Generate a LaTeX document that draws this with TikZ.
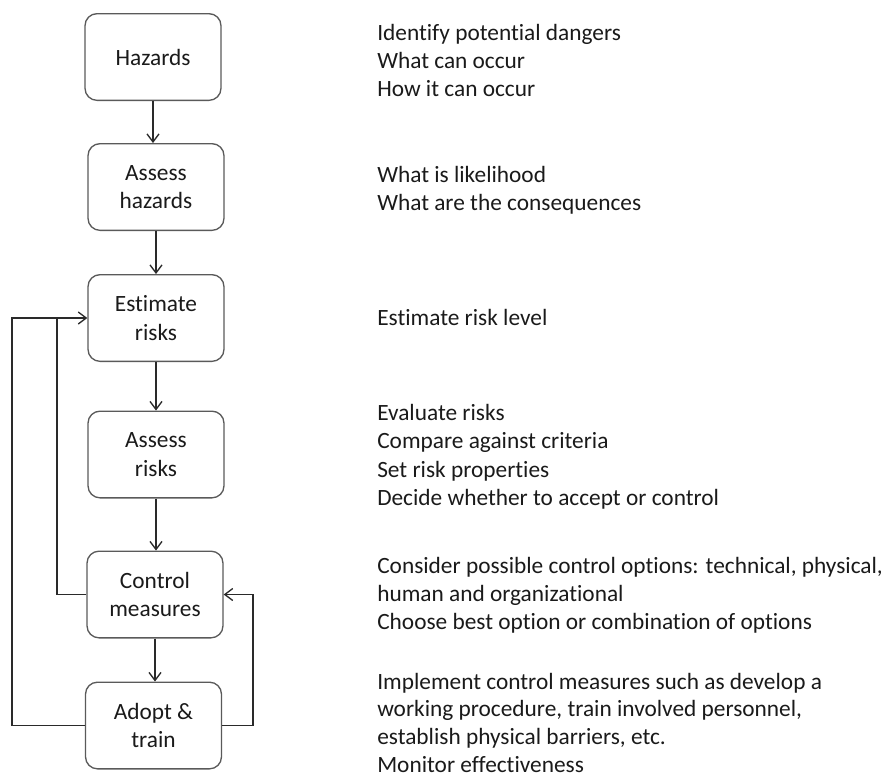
\documentclass[tikz,border=0pt]{standalone}
\usepackage{fontspec}
\setmainfont[RawFeature=-liga]{Carlito}
\usetikzlibrary{arrows.meta}
\definecolor{boxgray}{HTML}{5A5A5A}
\definecolor{linegray}{HTML}{2A2A2A}
\definecolor{txt}{HTML}{1A1A1A}
\begin{document}
\begin{tikzpicture}[x=0.75pt,y=-0.75pt,
  stepbox/.style={draw=boxgray, line width=1pt, rounded corners=9pt,
    minimum width=102pt, minimum height=65pt, align=center, inner sep=0pt,
    text=txt, font=\fontsize{17.5}{21.4}\selectfont},
  flow/.style={draw=linegray, line width=1pt, -{Straight Barb[length=6pt,width=9pt]}},
  link/.style={draw=linegray, line width=1pt},
  desc/.style={anchor=base west, inner sep=0pt, text=txt,
    font=\fontsize{17.5}{21.4}\selectfont}]
\useasboundingbox (0,0) rectangle (894,779);

% process steps
\node[stepbox] (haz)  at (153,57)    {Hazards};
\node[stepbox] (ahaz) at (156,187)   {Assess\\hazards};
\node[stepbox] (est)  at (156,318)   {Estimate\\risks};
\node[stepbox] (ass)  at (156,454.5) {Assess\\risks};
\node[stepbox] (ctl)  at (155,594.5) {Control\\measures};
\node[stepbox] (adp)  at (153.5,725.5) {Adopt \&\\train};

% main flow
\draw[flow] (haz.south)  -- (haz.south |- ahaz.north);
\draw[flow] (ahaz.south) -- (ahaz.south |- est.north);
\draw[flow] (est.south)  -- (est.south |- ass.north);
\draw[flow] (ass.south)  -- (ass.south |- ctl.north);
\draw[flow] (ctl.south)  -- (ctl.south |- adp.north);

% feedback loops
\coordinate (outer) at (12,318);
\coordinate (inner) at (57,318);
\draw[flow] (adp.west) -| (outer) -- (est.west);
\draw[link] (ctl.west) -| (inner);
\coordinate (rside) at (253,594.5);
\draw[flow] (adp.east) -| (rside) -- (ctl.east);

% descriptions
\foreach \t [count=\i] in {Identify potential dangers, What can occur, How it can occur}
  \node[desc] (d1-\i) at (377,{40+28.3*(\i-1)}) {\t};
\foreach \t [count=\i] in {What is likelihood, What are the consequences}
  \node[desc] (d2-\i) at (377,{182+28.3*(\i-1)}) {\t};
\node[desc] (d3-1) at (377,325) {Estimate risk level};
\foreach \t [count=\i] in {Evaluate risks, Compare against criteria, Set risk properties, Decide whether to accept or control}
  \node[desc] (d4-\i) at (377,{420+28.5*(\i-1)}) {\t};
\foreach \t [count=\i] in {{Consider possible control options: technical, physical,}, human and organizational, Choose best option or combination of options}
  \node[desc] (d5-\i) at (377,{573+28.3*(\i-1)}) {\t};
\foreach \t [count=\i] in {Implement control measures such as develop a, {working procedure, train involved personnel,}, {establish physical barriers, etc.}, Monitor effectiveness}
  \node[desc] (d6-\i) at (377,{689+27.7*(\i-1)}) {\t};
\end{tikzpicture}
\end{document}
